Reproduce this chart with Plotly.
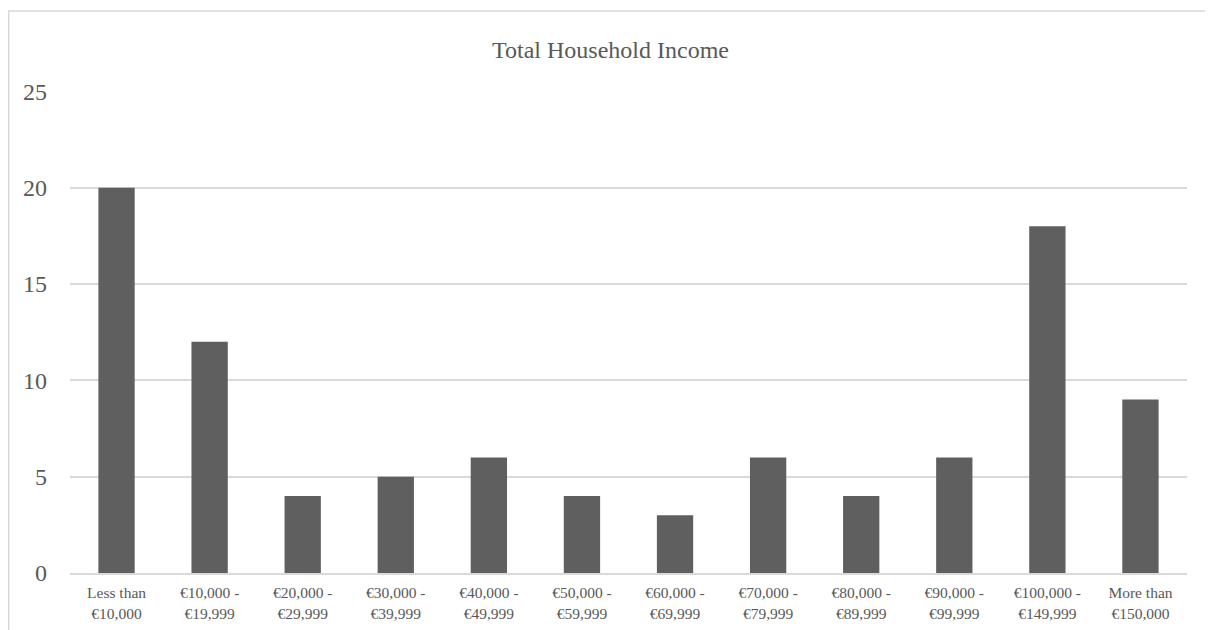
import plotly.graph_objects as go

categories = ["Less than<br>€10,000", "€10,000 -<br>€19,999", "€20,000 -<br>€29,999",
              "€30,000 -<br>€39,999", "€40,000 -<br>€49,999", "€50,000 -<br>€59,999",
              "€60,000 -<br>€69,999", "€70,000 -<br>€79,999", "€80,000 -<br>€89,999",
              "€90,000 -<br>€99,999", "€100,000 -<br>€149,999", "More than<br>€150,000"]
values = [20, 12, 4, 5, 6, 4, 3, 6, 4, 6, 18, 9]
y_ticks = [0, 5, 10, 15, 20, 25]

font = "Liberation Serif"

fig = go.Figure(go.Bar(x=categories, y=values, marker_color="#5f5f5f",
                       marker_line_width=0))

# page has an 8px body margin, so the figure is drawn 8px smaller
W, H = 1205, 622
L, R, T, B = 62, 26, 83, 57
pw, ph = W - L - R, H - T - B

fig.update_layout(
    width=W, height=H,
    margin=dict(l=L, r=R, t=T, b=B, pad=0, autoexpand=False),
    paper_bgcolor="white", plot_bgcolor="white",
    bargap=0.61,
    showlegend=False,
    title=dict(text="Total Household Income", x=0.5, xanchor="center",
               y=1 - 42 / H, yanchor="middle",
               font=dict(family=font, size=24, color="#595959")),
    font=dict(family=font, color="#595959"),
    xaxis=dict(showgrid=False, showline=True, linecolor="#d9d9d9", linewidth=1.5,
               ticks="", tickfont=dict(family=font, size=15.5, color="#595959"),
               ticklabelstandoff=5, fixedrange=True, automargin=False),
    yaxis=dict(range=[0, 25.02], tickvals=y_ticks, showgrid=True, gridcolor="#d9d9d9",
               gridwidth=1.5, zeroline=False, showline=False, ticks="",
               tickfont=dict(family=font, size=24, color="#595959"),
               ticklabelstandoff=22, automargin=False),
    shapes=[
        dict(type="line", xref="paper", yref="paper",
             x0=(0 - L) / pw, x1=(W - L) / pw, y0=(H - B - 3) / ph, y1=(H - B - 3) / ph,
             line=dict(color="#d9d9d9", width=1.5)),
        dict(type="line", xref="paper", yref="paper",
             x0=(0.75 - L) / pw, x1=(0.75 - L) / pw, y0=(H - B - 3) / ph, y1=-B / ph,
             line=dict(color="#d9d9d9", width=1.5)),
    ],
)

fig.write_html("out.html")
